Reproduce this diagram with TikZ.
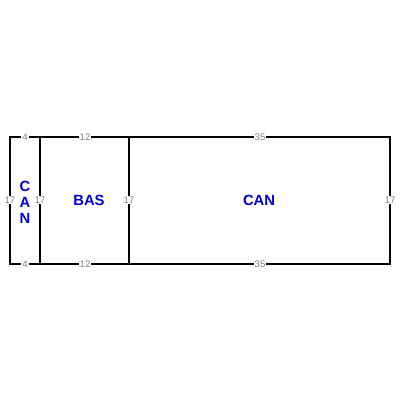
\documentclass[tikz,border=0pt]{standalone}
\usepackage{fontspec}
\setmainfont{Liberation Sans}
\usetikzlibrary{positioning}

\tikzset{
  wall/.style={draw=black, line width=1.6pt},
  dimlabel/.style={fill=white, text=gray, font=\fontsize{6.8}{7}\selectfont, inner sep=0.6pt},
  roomlabel/.style={text=blue!80!black, font=\fontsize{10.5}{11.3}\selectfont\bfseries, inner sep=0pt, align=center}
}

\begin{document}
\begin{tikzpicture}[x=0.025cm, y=-0.025cm]
\useasboundingbox (0,0) rectangle (400,400);
% rooms
\draw [wall] (10,137) rectangle (40,264);
\draw [wall] (40,137) rectangle (129,264);
\draw [wall] (129,137) rectangle (390,264);
% room names
\node [roomlabel] (can1) at (25,202) {C\\A\\N};
\node [roomlabel] (bas) at (89,200) {BAS};
\node [roomlabel] (can2) at (259,200) {CAN};
% dimensions
\node [dimlabel] (d1t) at (25,137) {4};
\node [dimlabel] (d2t) at (85,137) {12};
\node [dimlabel] (d3t) at (260,137) {35};
\node [dimlabel] (d1b) at (25,264) {4};
\node [dimlabel] (d2b) at (85,264) {12};
\node [dimlabel] (d3b) at (260,264) {35};
\node [dimlabel] (h1) at (10,200) {17};
\node [dimlabel] (h2) at (40,200) {17};
\node [dimlabel] (h3) at (129,200) {17};
\node [dimlabel] (h4) at (390,200) {17};
\end{tikzpicture}
\end{document}
